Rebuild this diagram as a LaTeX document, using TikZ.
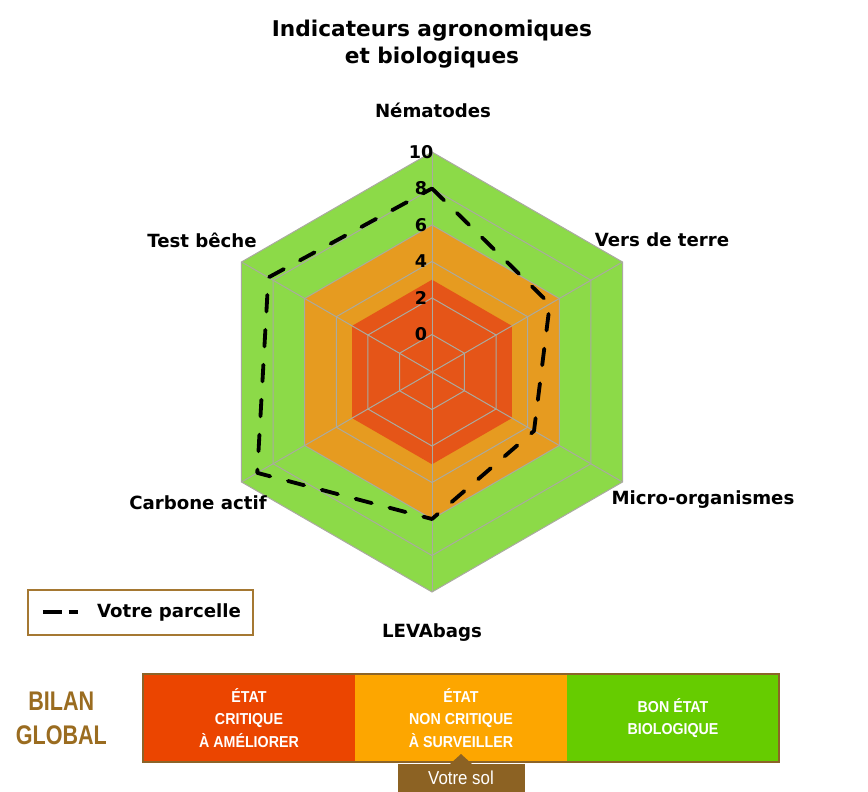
\documentclass[tikz,border=0pt]{standalone}
\usepackage{fontspec}
\setmainfont{DejaVu Sans}
\newfontfamily\barfont[FakeStretch=0.9]{Liberation Sans}
\newfontfamily\bilanfont[FakeStretch=0.8]{Liberation Sans}
\definecolor{radgreen}{RGB}{140,218,72}
\definecolor{radorange}{RGB}{230,155,32}
\definecolor{radred}{RGB}{229,85,24}
\definecolor{gridgray}{RGB}{170,170,160}
\definecolor{barred}{RGB}{235,69,0}
\definecolor{barorange}{RGB}{253,166,0}
\definecolor{bargreen}{RGB}{102,204,0}
\definecolor{barbrown}{RGB}{140,100,40}
\definecolor{solbrown}{RGB}{140,98,35}
\definecolor{bilanbrown}{RGB}{154,108,32}
\definecolor{legbrown}{RGB}{165,120,50}
\usepackage{tikz}
\usetikzlibrary{positioning, calc}
% hexagone du radar, rayon #1
\newcommand{\hexa}[1]{(90:#1) -- (30:#1) -- (-30:#1) -- (-90:#1) -- (210:#1) -- (150:#1) -- cycle}

\begin{document}
\begin{tikzpicture}[
  lbl/.style={font=\bfseries\fontsize{15.5}{18}\selectfont},
  grad/.style={font=\bfseries\fontsize{15}{18}\selectfont, inner sep=0pt},
  grid/.style={draw=gridgray, line width=0.85pt},
  parcelle/.style={black, line width=0.115cm, dash pattern=on 0.5cm off 0.55cm, line cap=round, line join=round},
  seg/.style={minimum width=6.36cm, minimum height=2.64cm, inner sep=0pt, outer sep=0pt, text=white, align=center, font=\barfont\bfseries\fontsize{13.5}{19.5}\selectfont},
  solbox/.style={fill=solbrown, text=white, minimum width=3.81cm, minimum height=0.84cm, inner sep=0pt, font=\barfont\fontsize{16}{18}\selectfont}
]
  \useasboundingbox (-12.96,11.16) rectangle (13.08,-12.57);

  \node[font=\bfseries\fontsize{18.5}{23}\selectfont, align=center] (title) at (0,9.83) {Indicateurs agronomiques\\et biologiques};

  % zones
  \fill[radgreen] \hexa{6.6};
  \fill[radorange] \hexa{4.41};
  \fill[radred] \hexa{2.7675};

  % grille
  \foreach \a in {90,30,-30,-90,-150,150}
    \draw[grid] (0,0) -- (\a:6.6);
  \foreach \v in {0,2,...,10} {
    \pgfmathsetmacro\r{1.125+0.5475*\v}
    \draw[grid] \hexa{\r};
    \node[grad] (g\v) at (-0.33,\r) {\v};
  }

  \node[lbl] (nem) at (0.03,7.86) {Nématodes};
  \node[lbl] (vdt) at (6.9,3.96) {Vers de terre};
  \node[lbl] (micro) at (8.13,-3.84) {Micro-organismes};
  \node[lbl] (leva) at (0,-7.83) {LEVAbags};
  \node[lbl] (carb) at (-7.02,-3.93) {Carbone actif};
  \node[lbl] (test) at (-6.9,3.96) {Test bêche};

  % votre parcelle
  \foreach \a/\v [count=\i] in {90/8,30/5.4,-30/4.4,-90/6,-150/9,150/8.3}
    \coordinate (d\i) at (\a:{1.125+0.5475*\v});
  \draw[parcelle] (d1) -- (d2) -- (d3) -- (d4) -- (d5) -- (d6) -- cycle;

  % legende
  \node[draw=legbrown, line width=2pt, minimum width=6.75cm, minimum height=1.35cm] (legend) at (-8.745,-7.215) {};
  \coordinate (ls) at (-11.67,-7.2);
  \coordinate (le) at (-10.62,-7.2);
  \draw[black, line width=0.1cm, dash pattern=on 0.57cm off 0.2cm] (ls) -- (le);
  \node[lbl, right=0.45cm of le] (legtxt) {Votre parcelle};

  % bilan global
  \node[seg, fill=barred] (crit) at (-5.49,-10.38) {ÉTAT\\CRITIQUE\\À AMÉLIORER};
  \node[seg, fill=barorange, right=0cm of crit] (surv) {ÉTAT\\NON CRITIQUE\\À SURVEILLER};
  \node[seg, fill=bargreen, right=0cm of surv] (bon) {BON ÉTAT\\BIOLOGIQUE};
  \draw[barbrown, line width=1.5pt] (crit.north west) rectangle (bon.south east);
  \node[font=\bilanfont\bfseries\fontsize{23}{29}\selectfont, text=bilanbrown, align=center, left=0.96cm of crit] (bilan) {BILAN\\GLOBAL};

  \node[solbox, below=0.06cm of surv] (sol) {Votre sol};
  \fill[solbrown] ([xshift=-0.33cm]sol.north) -- ([yshift=0.3cm]sol.north) -- ([xshift=0.33cm]sol.north) -- cycle;
\end{tikzpicture}
\end{document}
